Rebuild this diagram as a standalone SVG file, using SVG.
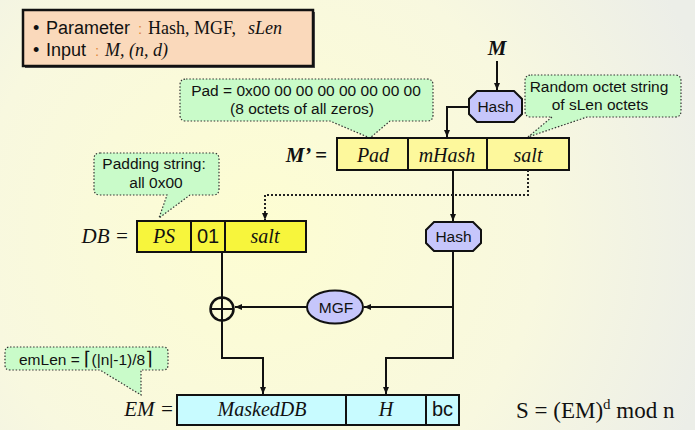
<svg xmlns="http://www.w3.org/2000/svg" width="695" height="430" viewBox="0 0 695 430">
<defs>
<radialGradient id="bg" cx="260" cy="230" r="470" gradientUnits="userSpaceOnUse">
<stop offset="0" stop-color="#fdfdd2"/>
<stop offset="0.6" stop-color="#f8f8df"/>
<stop offset="1" stop-color="#eceee8"/>
</radialGradient>
<marker id="ah" markerWidth="8" markerHeight="8" refX="7" refY="4" orient="auto" markerUnits="userSpaceOnUse">
<path d="M0,1 L7,4 L0,7 Z" fill="#111"/>
</marker>
</defs>
<style>
.sans{font-family:"Liberation Sans",Arial,sans-serif;}
.serif{font-family:"Liberation Serif","Times New Roman",serif;}
.it{font-style:italic;}
.cell{stroke:#111;stroke-width:2;}
.y1{fill:#fdf89c;}
.y2{fill:#f7f53c;}
.cy{fill:#c8fbff;}
.call{fill:#c9fbc9;stroke:#333;stroke-width:1.2;stroke-dasharray:1.5 1.8;}
.op{fill:#c6c6fb;stroke:#111;stroke-width:2;}
.wire{fill:none;stroke:#111;stroke-width:2;}
.dot{fill:none;stroke:#222;stroke-width:2;stroke-dasharray:2 2;}
.ct{font-size:15.5px;fill:#111;text-anchor:middle;}
.cl{font-size:20px;fill:#111;text-anchor:middle;}
.pt{font-size:18px;fill:#111;}
.colon{font-size:15px;fill:#e08a3c;}
</style>
<rect width="695" height="430" fill="url(#bg)"/>

<g id="params">
<rect x="25" y="12" width="290" height="56" fill="#555"/>
<rect x="23" y="10" width="290" height="56" fill="#fad9bb" stroke="#111" stroke-width="2.5"/>
<text x="33" y="34" class="sans pt">•</text>
<text x="46" y="34" class="sans pt">Parameter</text>
<text x="138" y="34" class="sans colon">:</text>
<text x="148" y="34" class="serif pt">Hash, MGF,</text>
<text x="248" y="34" class="serif it pt">sLen</text>
<text x="33" y="56" class="sans pt">•</text>
<text x="46" y="56" class="sans pt">Input</text>
<text x="95" y="56" class="sans colon">:</text>
<text x="105" y="56" class="serif it pt">M, (n, d)</text>
</g>

<g id="M-label">
<text x="497" y="55" class="serif it" font-size="21" font-weight="bold" text-anchor="middle" fill="#111">M</text>
</g>

<g id="pad-callout">
<path class="call" d="M186,79 H427 Q433,79 433,85 V115 Q433,121 427,121 H390 L370,138 L330,121 H186 Q180,121 180,115 V85 Q180,79 186,79 Z"/>
<text x="306" y="96" class="sans ct">Pad = 0x00 00 00 00 00 00 00 00</text>
<text x="302" y="114" class="sans ct">(8 octets of all zeros)</text>
</g>

<g id="random-callout">
<path class="call" d="M531,75 H675 Q681,75 681,81 V111 Q681,117 675,117 H587 L528,137 L552,117 H531 Q525,117 525,111 V81 Q525,75 531,75 Z"/>
<text x="599" y="92" class="sans ct">Random octet string</text>
<text x="600" y="110" class="sans ct">of sLen octets</text>
</g>

<g id="hash1">
<path class="op" d="M477,91 H514 L522,99 V114 L514,122 H477 L469,114 V99 Z"/>
<text x="495.5" y="112" class="sans ct">Hash</text>
</g>

<g id="mprime">
<text x="327" y="162" class="serif it" font-size="21" font-weight="bold" text-anchor="end" fill="#111">M’ =</text>
<rect x="337" y="138" width="71" height="32" class="cell y1"/>
<rect x="408" y="138" width="79" height="32" class="cell y1"/>
<rect x="487" y="138" width="82" height="32" class="cell y1"/>
<text x="373" y="162" class="serif it cl">Pad</text>
<text x="447" y="162" class="serif it cl">mHash</text>
<text x="528" y="162" class="serif it cl">salt</text>
</g>

<g id="padding-callout">
<path class="call" d="M100,153 H213 Q219,153 219,159 V189 Q219,195 213,195 H190 L159,218 L167,195 H100 Q94,195 94,189 V159 Q94,153 100,153 Z"/>
<text x="154" y="169" class="sans ct">Padding string:</text>
<text x="156" y="188" class="sans ct">all 0x00</text>
</g>

<g id="db">
<text x="129" y="243" class="serif it" font-size="21" text-anchor="end" fill="#111">DB =</text>
<rect x="137" y="221" width="54" height="31" class="cell y2"/>
<rect x="191" y="221" width="34" height="31" class="cell y2"/>
<rect x="225" y="221" width="81" height="31" class="cell y2"/>
<text x="164" y="243" class="serif it cl">PS</text>
<text x="208" y="243" class="sans cl" font-size="19">01</text>
<text x="265" y="243" class="serif it cl">salt</text>
</g>

<g id="hash2">
<path class="op" d="M434,222 H473 L481,230 V243 L473,251 H434 L426,243 V230 Z"/>
<text x="453.5" y="242" class="sans ct">Hash</text>
</g>

<g id="mgf">
<ellipse cx="335" cy="307" rx="28" ry="16.5" class="op"/>
<text x="336" y="312.5" class="sans ct">MGF</text>
</g>

<g id="xor">
<circle cx="222" cy="309" r="11.5" fill="none" stroke="#111" stroke-width="2.5"/>
<line x1="210.5" y1="309" x2="233.5" y2="309" stroke="#111" stroke-width="2"/>
</g>

<g id="emlen-callout">
<path class="call" d="M10,347 H163 Q168,347 168,352 V365 Q168,370 163,370 H141 V395 L100,370 H10 Q5,370 5,365 V352 Q5,347 10,347 Z"/>
<text x="19" y="365" class="sans" font-size="15.5" fill="#111">emLen = <tspan font-family="DejaVu Sans,sans-serif" font-size="19">⌈</tspan>(|n|-1)/8<tspan font-family="DejaVu Sans,sans-serif" font-size="19">⌉</tspan></text>
</g>

<g id="em">
<text x="174" y="416" class="serif it" font-size="21" text-anchor="end" fill="#111">EM =</text>
<rect x="177" y="395" width="169" height="30" class="cell cy"/>
<rect x="346" y="395" width="80" height="30" class="cell cy"/>
<rect x="426" y="395" width="33" height="30" class="cell cy"/>
<text x="262" y="416" class="serif it cl">MaskedDB</text>
<text x="386" y="416" class="serif it cl">H</text>
<text x="442.5" y="416" class="sans cl">bc</text>
</g>

<g id="formula">
<text x="516" y="418" class="serif" font-size="23" fill="#111">S = (EM)<tspan dy="-9" font-size="15">d</tspan><tspan dy="9"> mod n</tspan></text>
</g>

<g id="connectors">
<path class="wire" d="M497,61 V90" marker-end="url(#ah)"/>
<path class="wire" d="M469,107 H447 V137" marker-end="url(#ah)"/>
<path class="wire" d="M453,170 V221" marker-end="url(#ah)"/>
<path class="dot" d="M528,170 V195 H265 V220" marker-end="url(#ah)"/>
<path class="wire" d="M453,251 V358 H386 V394" marker-end="url(#ah)"/>
<path class="wire" d="M453,307 H364" marker-end="url(#ah)"/>
<path class="wire" d="M307,307 H235" marker-end="url(#ah)"/>
<path class="wire" d="M222,252 V321"/>
<path class="wire" d="M222,321 V358 H263 V394" marker-end="url(#ah)"/>
</g>
</svg>
